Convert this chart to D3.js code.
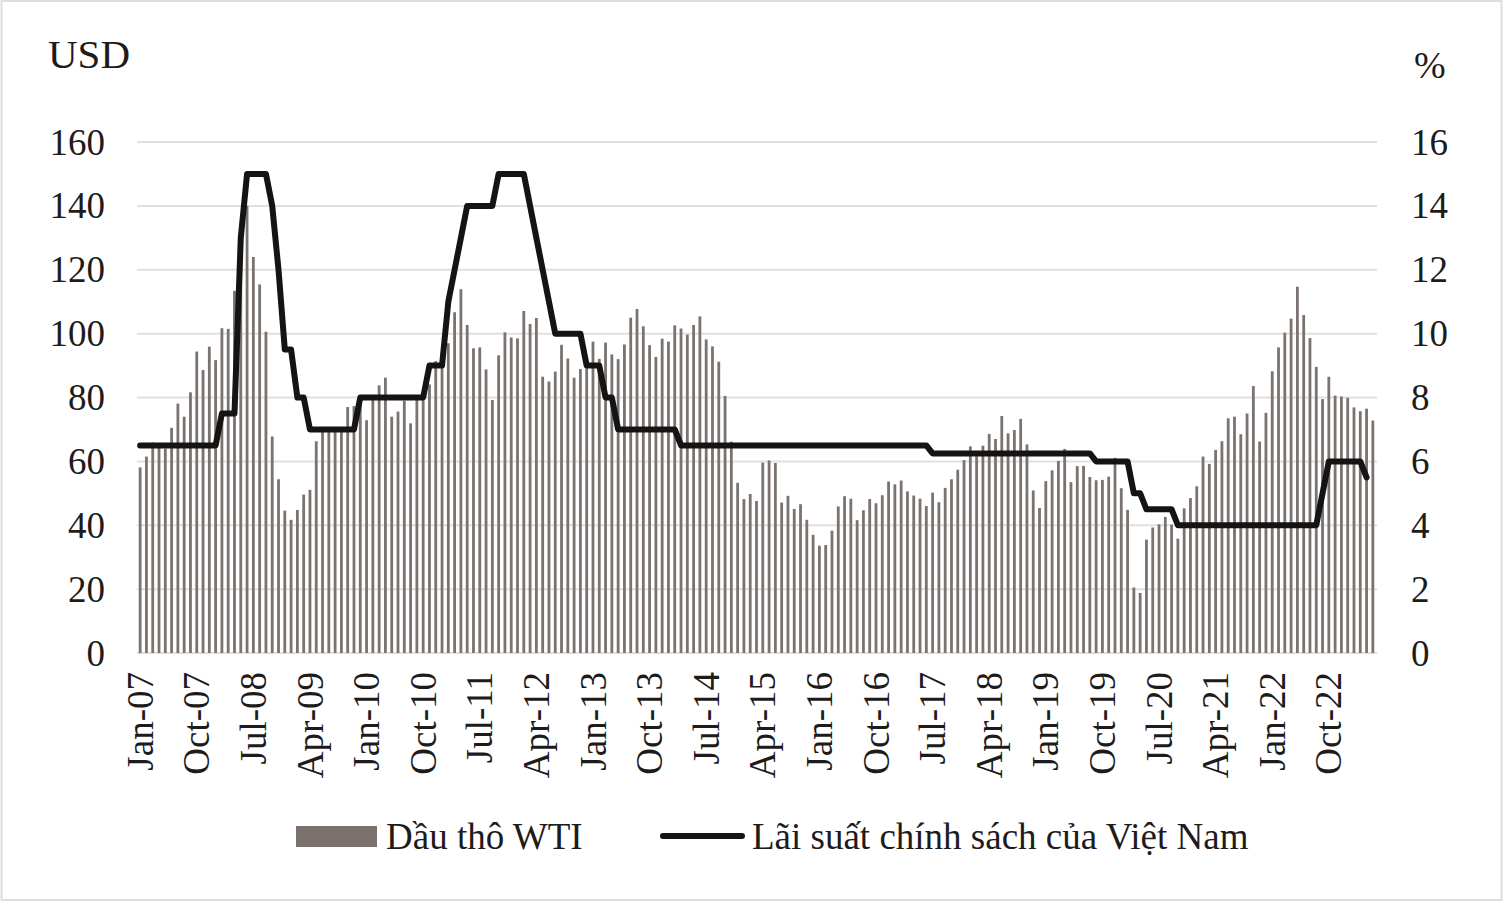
<!DOCTYPE html>
<html>
<head>
<meta charset="utf-8">
<script src="https://cdn.jsdelivr.net/npm/d3@7/dist/d3.min.js"></script>
<style>
  html, body { margin: 0; padding: 0; background: #ffffff; }
  svg { display: block; }
  text { font-family: "Liberation Serif", "Times New Roman", serif; fill: #1e1b1b; }
</style>
</head>
<body>
<svg id="chart" width="1504" height="902"></svg>
<script>
// ---------------- DATA ----------------
const startMonth = "2007-01";           // first category
const monthCount = 197;                 // Jan-07 .. May-23

// WTI crude oil price, USD/barrel (monthly)
const wti = [
  58.1, 61.5, 65.9, 65.7, 64.0, 70.5, 78.1, 74.0, 81.6, 94.4, 88.6, 95.9,      // 2007
  91.7, 101.7, 101.5, 113.4, 127.3, 140.0, 124.0, 115.4, 100.6, 67.8, 54.4, 44.6, // 2008
  41.7, 44.8, 49.6, 51.1, 66.3, 69.9, 69.5, 70.0, 70.6, 77.0, 77.3, 79.4,      // 2009
  72.9, 79.7, 83.8, 86.2, 74.0, 75.6, 79.0, 71.9, 80.0, 81.4, 84.1, 91.4,      // 2010
  92.2, 97.0, 106.7, 113.9, 102.7, 95.4, 95.7, 88.8, 79.2, 93.2, 100.4, 98.8,  // 2011
  98.5, 107.1, 103.0, 104.9, 86.5, 85.0, 88.1, 96.5, 92.2, 86.2, 88.9, 91.8,   // 2012
  97.5, 92.1, 97.2, 93.5, 92.0, 96.6, 105.0, 107.7, 102.3, 96.4, 92.7, 98.4,   // 2013
  97.5, 102.6, 101.6, 99.7, 102.7, 105.4, 98.2, 96.0, 91.2, 80.5, 66.2, 53.3,  // 2014
  48.2, 49.8, 47.6, 59.6, 60.3, 59.5, 47.1, 49.2, 45.1, 46.6, 41.7, 37.0,      // 2015
  33.6, 33.8, 38.3, 45.9, 49.1, 48.3, 41.6, 44.7, 48.2, 46.9, 49.4, 53.7,      // 2016
  52.8, 54.0, 50.6, 49.3, 48.3, 46.0, 50.2, 47.2, 51.7, 54.4, 57.4, 60.4,      // 2017
  64.7, 61.6, 64.9, 68.6, 67.0, 74.2, 68.8, 69.8, 73.3, 65.3, 50.9, 45.4,      // 2018
  53.8, 57.2, 60.1, 63.9, 53.5, 58.5, 58.6, 55.1, 54.1, 54.2, 55.2, 61.1,      // 2019
  51.6, 44.8, 20.5, 18.8, 35.5, 39.3, 40.3, 42.6, 40.2, 35.8, 45.3, 48.5,      // 2020
  52.2, 61.5, 59.2, 63.6, 66.3, 73.5, 74.0, 68.5, 75.0, 83.6, 66.2, 75.2,      // 2021
  88.2, 95.7, 100.3, 104.7, 114.7, 105.8, 98.6, 89.6, 79.5, 86.5, 80.6, 80.3,  // 2022
  79.9, 76.9, 75.7, 76.5, 72.8                                                  // 2023
];

// Vietnam policy (refinancing) rate, % (monthly, Jan-07 .. Apr-23)
const policyRate = [
  6.5, 6.5, 6.5, 6.5, 6.5, 6.5, 6.5, 6.5, 6.5, 6.5, 6.5, 6.5,                  // 2007
  6.5, 7.5, 7.5, 7.5, 13, 15, 15, 15, 15, 14, 12, 9.5,                         // 2008
  9.5, 8, 8, 7, 7, 7, 7, 7, 7, 7, 7, 8,                                        // 2009
  8, 8, 8, 8, 8, 8, 8, 8, 8, 8, 9, 9,                                          // 2010
  9, 11, 12, 13, 14, 14, 14, 14, 14, 15, 15, 15,                               // 2011
  15, 15, 14, 13, 12, 11, 10, 10, 10, 10, 10, 9,                               // 2012
  9, 9, 8, 8, 7, 7, 7, 7, 7, 7, 7, 7,                                          // 2013
  7, 7, 6.5, 6.5, 6.5, 6.5, 6.5, 6.5, 6.5, 6.5, 6.5, 6.5,                      // 2014
  6.5, 6.5, 6.5, 6.5, 6.5, 6.5, 6.5, 6.5, 6.5, 6.5, 6.5, 6.5,                  // 2015
  6.5, 6.5, 6.5, 6.5, 6.5, 6.5, 6.5, 6.5, 6.5, 6.5, 6.5, 6.5,                  // 2016
  6.5, 6.5, 6.5, 6.5, 6.5, 6.5, 6.25, 6.25, 6.25, 6.25, 6.25, 6.25,            // 2017
  6.25, 6.25, 6.25, 6.25, 6.25, 6.25, 6.25, 6.25, 6.25, 6.25, 6.25, 6.25,      // 2018
  6.25, 6.25, 6.25, 6.25, 6.25, 6.25, 6.25, 6.25, 6, 6, 6, 6,                  // 2019
  6, 6, 5, 5, 4.5, 4.5, 4.5, 4.5, 4.5, 4, 4, 4,                                // 2020
  4, 4, 4, 4, 4, 4, 4, 4, 4, 4, 4, 4,                                          // 2021
  4, 4, 4, 4, 4, 4, 4, 4, 5, 6, 6, 6,                                          // 2022
  6, 6, 6, 5.5                                                                 // 2023
];

const xTickLabels = ["Jan-07","Oct-07","Jul-08","Apr-09","Jan-10","Oct-10","Jul-11","Apr-12",
  "Jan-13","Oct-13","Jul-14","Apr-15","Jan-16","Oct-16","Jul-17","Apr-18","Jan-19","Oct-19",
  "Jul-20","Apr-21","Jan-22","Oct-22"];
const yLeftTicks = [0, 20, 40, 60, 80, 100, 120, 140, 160];
const yRightTicks = [0, 2, 4, 6, 8, 10, 12, 14, 16];
const leftTitle = "USD";
const rightTitle = "%";
const seriesNames = ["Dầu thô WTI", "Lãi suất chính sách của Việt Nam"];

// ---------------- CATEGORIES ----------------
const fmt = d3.timeFormat("%b-%y");
const start = d3.timeParse("%Y-%m")(startMonth);
const months = d3.timeMonth.range(start, d3.timeMonth.offset(start, monthCount)).map(fmt);

// ---------------- LAYOUT ----------------
const svg = d3.select("#chart");
const W = 1504, H = 902;
const plot = { left: 137, right: 1376, top: 142, bottom: 653 };

svg.append("rect").attr("x", 1.5).attr("y", 1).attr("width", W - 4).attr("height", H - 3)
  .attr("fill", "#ffffff").attr("stroke", "#e2ddd9").attr("stroke-width", 2);

const x = d3.scaleBand().domain(months).range([plot.left, plot.right]).padding(0);
const yL = d3.scaleLinear().domain([0, 160]).range([plot.bottom, plot.top]);
const yR = d3.scaleLinear().domain([0, 16]).range([plot.bottom, plot.top]);

// gridlines
svg.append("g").selectAll("line").data(yLeftTicks).join("line")
  .attr("x1", plot.left).attr("x2", plot.right + 1)
  .attr("y1", d => yL(d)).attr("y2", d => yL(d))
  .attr("stroke", "#e4dfdb").attr("stroke-width", 2);

// bars
const barW = 2.8;
svg.append("g").selectAll("rect").data(wti).join("rect")
  .attr("x", (d, i) => x(months[i]) + (x.bandwidth() - barW) / 2)
  .attr("width", barW)
  .attr("y", d => yL(d))
  .attr("height", d => yL(0) - yL(d))
  .attr("fill", "#7a7370");

// line
const line = d3.line()
  .x((d, i) => x(months[i]) + x.bandwidth() / 2)
  .y(d => yR(d));
svg.append("path").datum(policyRate)
  .attr("d", line)
  .attr("fill", "none").attr("stroke", "#141414").attr("stroke-width", 6)
  .attr("stroke-linejoin", "round").attr("stroke-linecap", "round");

// left axis labels
svg.append("g").selectAll("text").data(yLeftTicks).join("text")
  .attr("x", 105).attr("y", d => yL(d))
  .attr("text-anchor", "end").attr("dominant-baseline", "central")
  .attr("font-size", 37).text(d => d);

// right axis labels
svg.append("g").selectAll("text").data(yRightTicks).join("text")
  .attr("x", 1411).attr("y", d => yR(d))
  .attr("text-anchor", "start").attr("dominant-baseline", "central")
  .attr("font-size", 37).text(d => d);

// x axis labels
svg.append("g").selectAll("text").data(xTickLabels).join("text")
  .attr("transform", d => `translate(${x(d) + x.bandwidth() / 2},672) rotate(-90)`)
  .attr("text-anchor", "end").attr("dy", "0.34em")
  .attr("font-size", 37).text(d => d);

// axis titles
svg.append("text").attr("x", 48).attr("y", 68).attr("font-size", 41).text(leftTitle);
svg.append("text").attr("x", 1414).attr("y", 78).attr("font-size", 38).text(rightTitle);

// legend
const lg = svg.append("g");
lg.append("rect").attr("x", 296).attr("y", 826).attr("width", 81).attr("height", 21).attr("fill", "#7a716c");
lg.append("text").attr("x", 386).attr("y", 849).attr("font-size", 37).text(seriesNames[0]);
lg.append("line").attr("x1", 663).attr("x2", 742).attr("y1", 836).attr("y2", 836)
  .attr("stroke", "#141414").attr("stroke-width", 6).attr("stroke-linecap", "round");
lg.append("text").attr("x", 752).attr("y", 849).attr("font-size", 37).text(seriesNames[1]);
</script>
</body>
</html>
